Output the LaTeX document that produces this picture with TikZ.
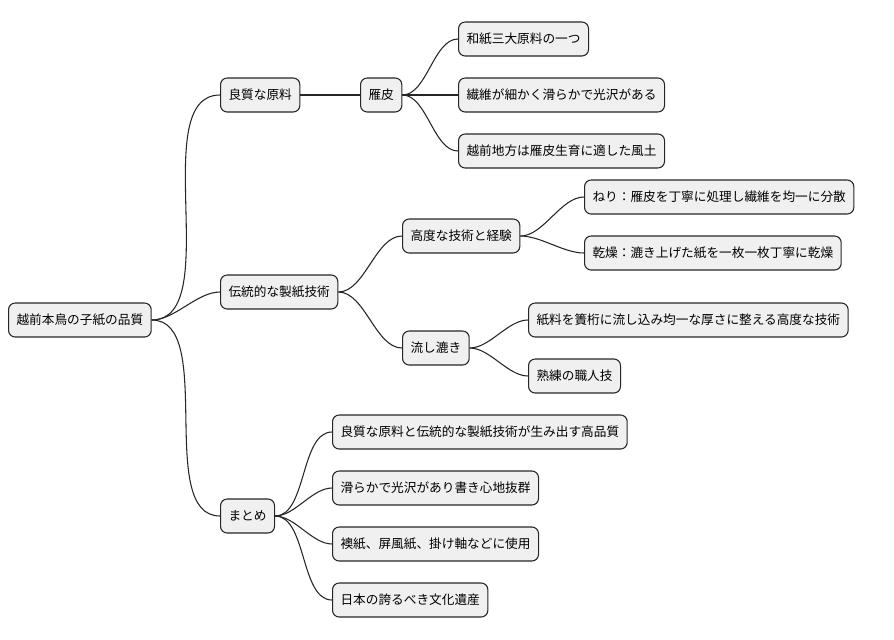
\documentclass[tikz,border=0pt]{standalone}
\usepackage{fontspec}
\setmainfont{Noto Sans CJK JP}
\tikzset{
  topic/.style={draw=black!85, fill=black!6, rounded corners=5pt, thick, anchor=west,
    minimum height=25.5pt, inner xsep=6pt, font=\fontsize{9.5pt}{11pt}\selectfont},
  link/.style={draw=black!85, thick, out=0, in=180, looseness=0.8}
}
\begin{document}
\begin{tikzpicture}[x=0.75pt,y=-0.75pt]
  \useasboundingbox (0,0) rectangle (894,640);
  % main branches
  \node[topic] (root) at (8,320) {越前本鳥の子紙の品質};
  \node[topic] (gen) at (220,95) {良質な原料};
  \node[topic] (gan) at (360,95) {雁皮};
  \node[topic] (g1) at (458,39) {和紙三大原料の一つ};
  \node[topic] (g2) at (458,95) {繊維が細かく滑らかで光沢がある};
  \node[topic] (g3) at (458,151) {越前地方は雁皮生育に適した風土};
  \node[topic] (tec) at (220,292) {伝統的な製紙技術};
  \node[topic] (kou) at (402,236) {高度な技術と経験};
  \node[topic] (k1) at (584,197) {ねり：雁皮を丁寧に処理し繊維を均一に分散};
  \node[topic] (k2) at (584,253) {乾燥：漉き上げた紙を一枚一枚丁寧に乾燥};
  \node[topic] (nag) at (402,348) {流し漉き};
  \node[topic] (n1) at (528,320) {紙料を簀桁に流し込み均一な厚さに整える高度な技術};
  \node[topic] (n2) at (528,376) {熟練の職人技};
  \node[topic] (mat) at (220,516) {まとめ};
  \node[topic] (m1) at (332,432) {良質な原料と伝統的な製紙技術が生み出す高品質};
  \node[topic] (m2) at (332,488) {滑らかで光沢があり書き心地抜群};
  \node[topic] (m3) at (332,544) {襖紙、屏風紙、掛け軸などに使用};
  \node[topic] (m4) at (332,600) {日本の誇るべき文化遺産};
  % connectors
  \foreach \a/\b in {root/gen, root/tec, root/mat, gen/gan, gan/g1, gan/g2, gan/g3,
      tec/kou, tec/nag, kou/k1, kou/k2, nag/n1, nag/n2, mat/m1, mat/m2, mat/m3, mat/m4}
    \draw[link] (\a.east) to (\b.west);
\end{tikzpicture}
\end{document}
